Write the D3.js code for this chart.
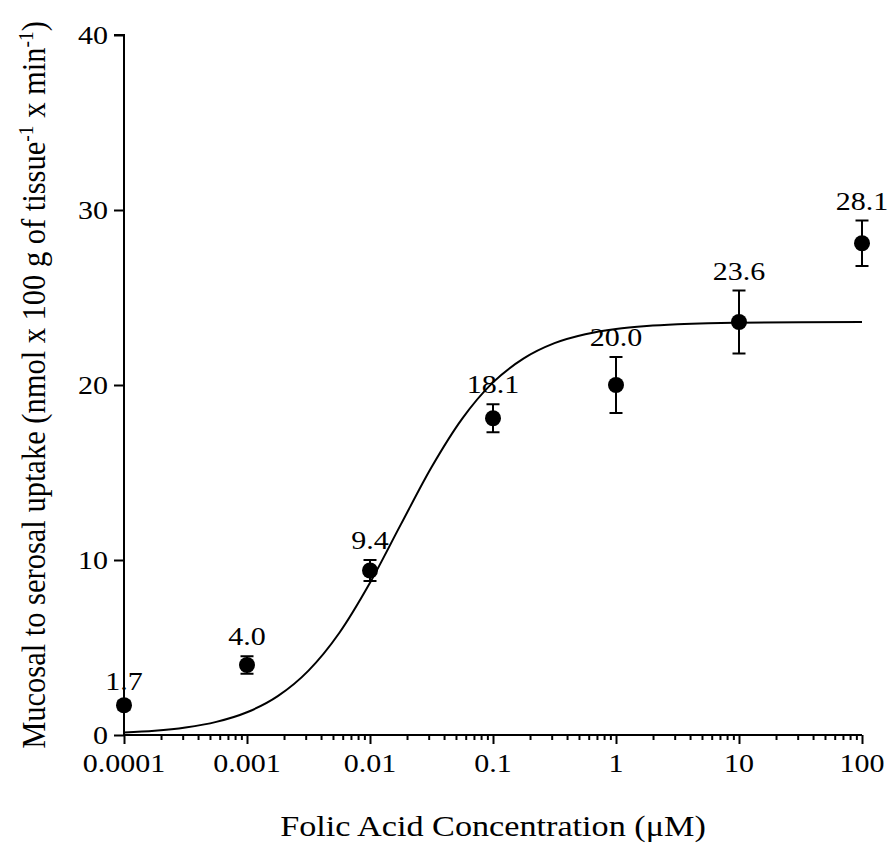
<!DOCTYPE html>
<html>
<head>
<meta charset="utf-8">
<script src="https://cdn.jsdelivr.net/npm/d3@7"></script>
<style>
  html, body { margin: 0; padding: 0; background: #fff; }
  svg { display: block; }
  text { font-family: "Liberation Serif", "Times New Roman", serif; fill: #000; }
</style>
</head>
<body>
<svg id="chart" width="892" height="844"></svg>
<script>
// ---- data ----
const concentrations = [0.0001, 0.001, 0.01, 0.1, 1, 10, 100];
const uptakeMeans    = [1.7, 4.0, 9.4, 18.1, 20.0, 23.6, 28.1];
const uptakeSEM      = [0.25, 0.5, 0.6, 0.8, 1.6, 1.8, 1.3];
const pointLabels    = ["1.7", "4.0", "9.4", "18.1", "20.0", "23.6", "28.1"];
// fitted sigmoid curve (log10 concentration -> uptake)
const curveLogX = [-4, -3.75, -3.5, -3.25, -3, -2.75, -2.5, -2.25, -2, -1.75, -1.5, -1.25, -1, -0.75, -0.5, -0.25, 0, 0.25, 0.5, 0.75, 1, 1.5, 2];
const curveY    = [0.14, 0.24, 0.43, 0.75, 1.30, 2.22, 3.68, 5.83, 8.70, 12.02, 15.30, 18.08, 20.15, 21.52, 22.39, 22.90, 23.20, 23.37, 23.47, 23.53, 23.56, 23.59, 23.60];
const xTickValues = [0.0001, 0.001, 0.01, 0.1, 1, 10, 100];
const xTickLabels = ["0.0001", "0.001", "0.01", "0.1", "1", "10", "100"];
const yTickValues = [0, 10, 20, 30, 40];
const xTitle = "Folic Acid Concentration (\u03BCM)";

// ---- layout ----
const svg = d3.select("#chart");
const mLeft = 124, mRight = 862, mTop = 35, mBottom = 735;
const SX = 1.2; // horizontal glyph stretch seen in the reference

const x = d3.scaleLog().domain([0.0001, 100]).range([mLeft, mRight]);
const y = d3.scaleLinear().domain([0, 40]).range([mBottom, mTop]);

function label(g, tx, ty, str, size, anchor) {
  return g.append("text")
    .attr("transform", `translate(${tx},${ty}) scale(${SX},1)`)
    .attr("text-anchor", anchor)
    .attr("font-size", size)
    .text(str);
}

// ---- axes ----
const yAxis = d3.axisLeft(y).tickValues(yTickValues).tickSize(10).tickFormat("");
const gy = svg.append("g").attr("transform", `translate(${mLeft},0)`).call(yAxis);
gy.select(".domain").attr("d", `M-10,${mTop}H0V${mBottom}`);
gy.selectAll("path, line").attr("stroke", "#000").attr("stroke-width", 2);
yTickValues.forEach(v => label(svg, mLeft - 16, y(v) + 8.5, String(v), 25, "end"));

// minor ticks (2..9 in each decade)
const minorVals = [];
for (let e = -4; e < 2; e++) for (let m = 2; m <= 9; m++) minorVals.push(m * Math.pow(10, e));
const xMinor = d3.axisBottom(x).tickValues(minorVals).tickSize(5).tickFormat("");
const gxm = svg.append("g").attr("transform", `translate(0,${mBottom})`).call(xMinor);
gxm.select(".domain").remove();
gxm.selectAll("line").attr("stroke", "#000").attr("stroke-width", 2);

const xAxis = d3.axisBottom(x).tickValues(xTickValues).tickSize(9).tickFormat("");
const gx = svg.append("g").attr("transform", `translate(0,${mBottom})`).call(xAxis);
gx.select(".domain").attr("d", `M${mLeft},0H${mRight}`);
gx.selectAll("path, line").attr("stroke", "#000").attr("stroke-width", 2);
xTickValues.forEach((v, i) => label(svg, x(v), 772, xTickLabels[i], 25, "middle"));

// axis titles
label(svg, (mLeft + mRight) / 2, 836, xTitle, 28.5, "middle");

const yt = svg.append("text")
  .attr("transform", `translate(45,${(mTop + mBottom) / 2}) scale(1.1,1) rotate(-90)`)
  .attr("text-anchor", "middle")
  .attr("font-size", 30.5);
yt.append("tspan").text("Mucosal to serosal uptake (nmol x 100 g of tissue");
yt.append("tspan").attr("font-size", 19.5).attr("dy", -11).text("-1");
yt.append("tspan").attr("dy", 11).text(" x min");
yt.append("tspan").attr("font-size", 19.5).attr("dy", -11).text("-1");
yt.append("tspan").attr("dy", 11).text(")");

// ---- fitted curve ----
const curvePts = curveLogX.map((lx, i) => [x(Math.pow(10, lx)), y(curveY[i])]);
svg.append("path")
  .attr("d", d3.line().curve(d3.curveMonotoneX)(curvePts))
  .attr("fill", "none").attr("stroke", "#000").attr("stroke-width", 2);

// ---- error bars ----
const capW = 6.5;
const eb = svg.append("g").attr("stroke", "#000").attr("stroke-width", 2);
concentrations.forEach((c, i) => {
  const cx = x(c), hi = y(uptakeMeans[i] + uptakeSEM[i]), lo = y(uptakeMeans[i] - uptakeSEM[i]);
  eb.append("line").attr("x1", cx).attr("x2", cx).attr("y1", hi).attr("y2", lo);
  eb.append("line").attr("x1", cx - capW).attr("x2", cx + capW).attr("y1", hi).attr("y2", hi);
  eb.append("line").attr("x1", cx - capW).attr("x2", cx + capW).attr("y1", lo).attr("y2", lo);
});

// ---- points ----
svg.append("g").selectAll("circle")
  .data(concentrations)
  .join("circle")
  .attr("cx", d => x(d))
  .attr("cy", (d, i) => y(uptakeMeans[i]))
  .attr("r", 8)
  .attr("fill", "#000");

// ---- value labels ----
concentrations.forEach((c, i) => {
  label(svg, x(c), y(uptakeMeans[i] + uptakeSEM[i]) - 11, pointLabels[i], 25, "middle");
});
</script>
</body>
</html>
